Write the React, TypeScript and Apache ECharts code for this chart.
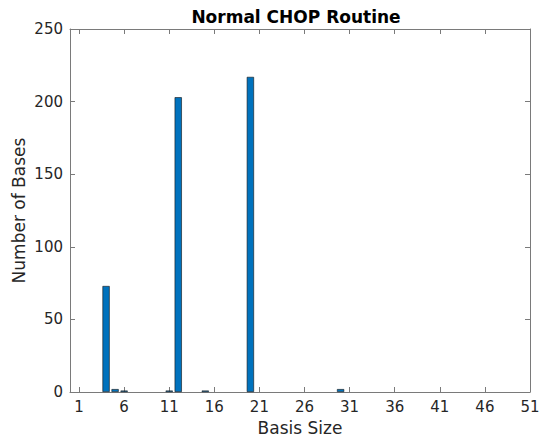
import React, { useEffect, useRef } from "react";
import * as echarts from "echarts";

const basisSizes = [4, 5, 6, 11, 12, 15, 20, 30];
const counts = [73, 2, 1, 1, 203, 1, 217, 2];
const xTicks = [1, 6, 11, 16, 21, 26, 31, 36, 41, 46, 51];
const titleText = "Normal CHOP Routine";
const xName = "Basis Size";
const yName = "Number of Bases";

export default function App() {
  const ref = useRef<HTMLDivElement>(null);
  useEffect(() => {
    if (!ref.current) return;
    const chart = echarts.init(ref.current, undefined, { renderer: "svg" });
    const font = "DejaVu Sans";
    const axisColor = "#262626";
    const lineStyle = { color: "#7a7a7a", width: 1 };
    const tick = (extra: object = {}) => ({
      show: true,
      inside: true,
      length: 5,
      lineStyle: { color: "#7a7a7a", width: 1 },
      ...extra,
    });
    chart.setOption({
      animation: false,
      title: {
        text: titleText,
        left: 291,
        top: 3,
        textAlign: "center",
        textStyle: { fontFamily: font, fontSize: 17, fontWeight: "bold", color: "#000" },
      },
      grid: { left: 70, right: 10, top: 29, bottom: 47, containLabel: false, outerBoundsMode: "none" },
      xAxis: [
        {
          type: "value",
          min: 0,
          max: 51,
          position: "bottom",
          splitLine: { show: false },
          axisLine: { show: true, lineStyle, onZero: false },
          axisTick: tick({ customValues: xTicks }),
          name: xName,
          nameLocation: "middle",
          nameGap: 27,
          nameTextStyle: { fontFamily: font, fontSize: 17, color: axisColor },
          axisLabel: {
            show: true,
            customValues: xTicks,
            fontFamily: font,
            fontSize: 15,
            color: axisColor,
            margin: 7,
          },
        },
        {
          type: "value",
          min: 0,
          max: 51,
          position: "top",
          splitLine: { show: false },
          axisLine: { show: true, lineStyle, onZero: false },
          axisTick: tick({ customValues: xTicks }),
          axisLabel: { show: false },
        },
      ],
      yAxis: [
        {
          type: "value",
          min: 0,
          max: 250,
          interval: 50,
          position: "left",
          name: yName,
          nameLocation: "middle",
          nameGap: 43,
          nameMoveOverlap: false,
          nameTextStyle: { fontFamily: font, fontSize: 17, color: axisColor },
          splitLine: { show: false },
          axisLine: { show: true, lineStyle, onZero: false },
          axisTick: tick(),
          axisLabel: { fontFamily: font, fontSize: 15, color: axisColor, margin: 7 },
        },
        {
          type: "value",
          min: 0,
          max: 250,
          interval: 50,
          position: "right",
          splitLine: { show: false },
          axisLine: { show: true, lineStyle, onZero: false },
          axisTick: tick(),
          axisLabel: { show: false },
        },
      ],
      series: [
        {
          type: "bar",
          xAxisIndex: 0,
          yAxisIndex: 0,
          barWidth: 7.2,
          data: basisSizes.map((s, i) => [s, counts[i]]),
          itemStyle: { color: "#0072BD", borderColor: "#111", borderWidth: 0.6 },
        },
      ],
    });
    return () => chart.dispose();
  }, []);
  return <div ref={ref} style={{ width: 540, height: 439, position: "absolute", left: 0, top: 0 }} />;
}
